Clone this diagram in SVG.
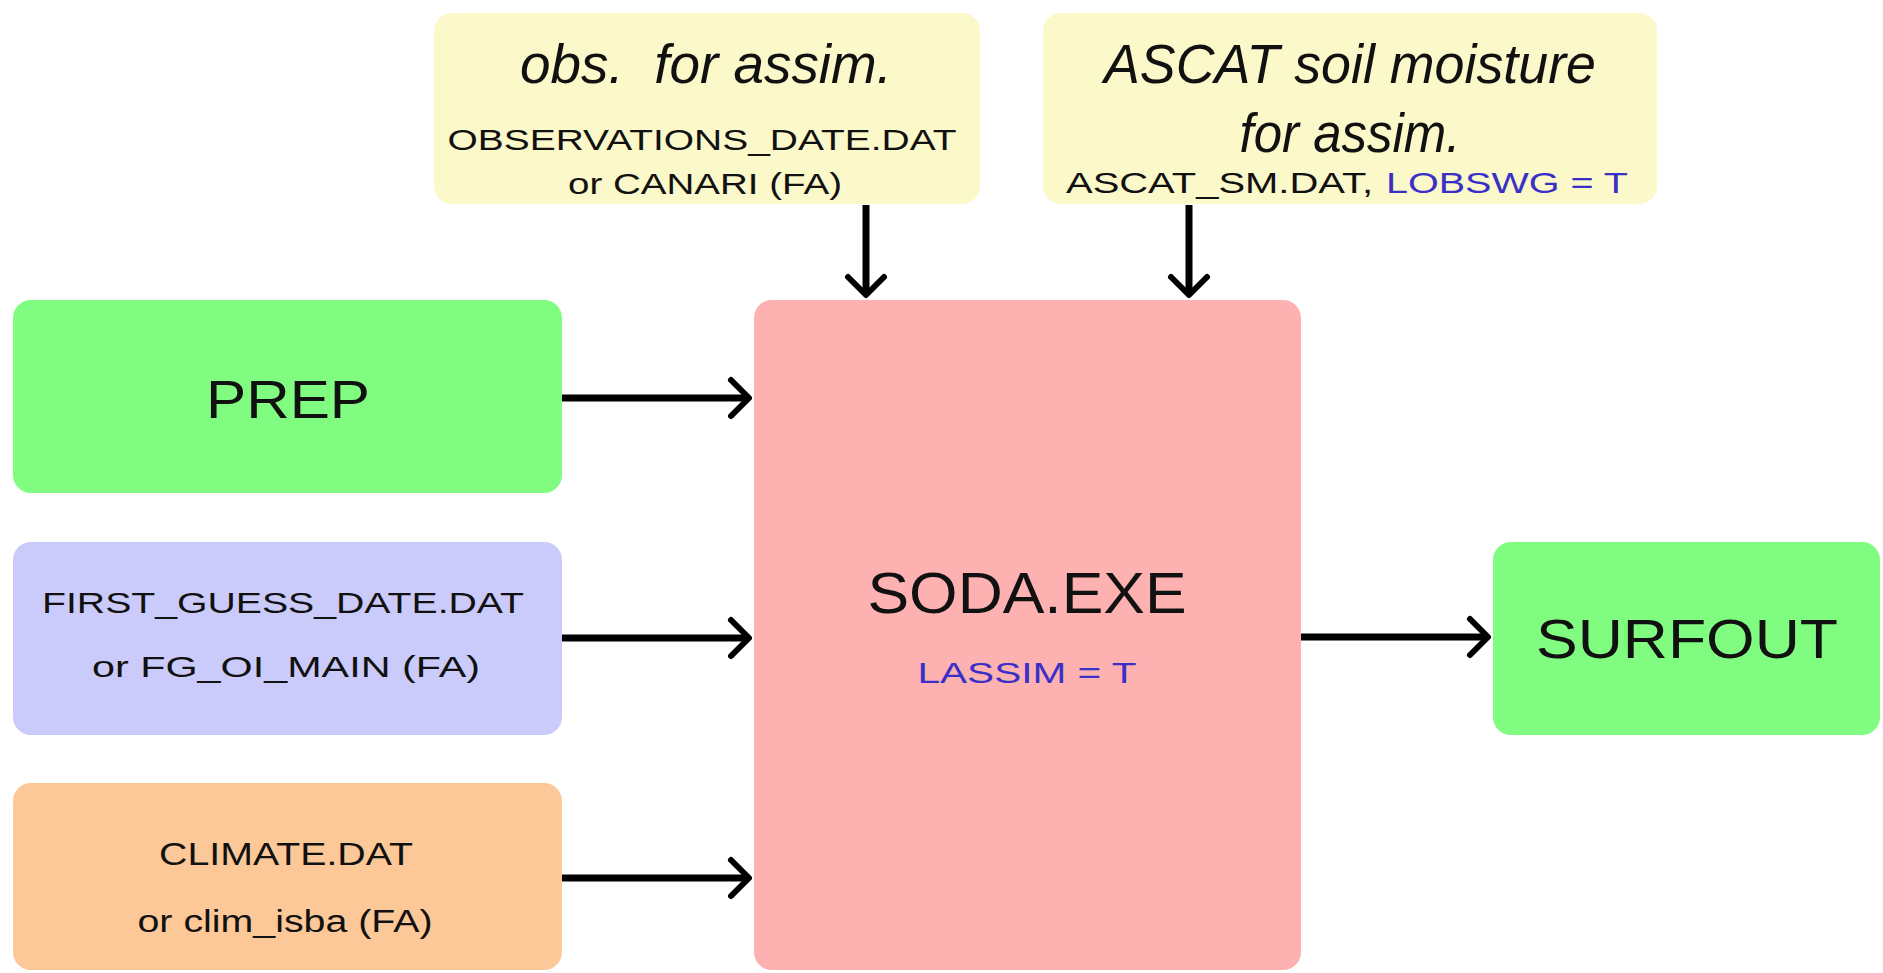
<svg xmlns="http://www.w3.org/2000/svg" width="1883" height="973" viewBox="0 0 1883 973">
<style>
  .box { stroke: none; }
  .t { font-family: "Liberation Sans", Arial, sans-serif; fill: #111; text-anchor: middle; }
  .it { font-style: italic; }
  .blue { fill: #3a30c8; }
  .conn { stroke: #000; stroke-width: 7; fill: none; }
</style>
<defs>
  <marker id="arr" markerUnits="userSpaceOnUse" markerWidth="50" markerHeight="50" viewBox="-30 -25 40 50" refX="0" refY="0" orient="auto" overflow="visible">
    <path d="M-18,-18 L0,0 L-18,18" fill="none" stroke="#000" stroke-width="6" stroke-linecap="round" stroke-linejoin="round"/>
  </marker>
</defs>
<rect width="1883" height="973" fill="#ffffff"/>

<g id="obs">
  <rect class="box" x="434" y="13" width="546" height="191" rx="18" fill="#fbf8c9"/>
  <text class="t it" x="706" y="83" font-size="56" textLength="372" lengthAdjust="spacingAndGlyphs" xml:space="preserve" style="white-space:pre">obs.  for assim.</text>
  <text class="t" x="702" y="150" font-size="29" textLength="509" lengthAdjust="spacingAndGlyphs">OBSERVATIONS_DATE.DAT</text>
  <text class="t" x="705" y="194" font-size="29" textLength="274" lengthAdjust="spacingAndGlyphs">or CANARI (FA)</text>
</g>

<g id="ascat">
  <rect class="box" x="1043" y="13" width="614" height="191" rx="18" fill="#fbf8c9"/>
  <text class="t it" x="1350" y="83" font-size="56" textLength="492" lengthAdjust="spacingAndGlyphs">ASCAT soil moisture</text>
  <text class="t it" x="1350" y="152" font-size="56" textLength="221" lengthAdjust="spacingAndGlyphs">for assim.</text>
  <text class="t" x="1066" y="193" font-size="30" style="text-anchor:start" textLength="307" lengthAdjust="spacingAndGlyphs">ASCAT_SM.DAT,</text>
  <text class="t blue" x="1386" y="193" font-size="30" style="text-anchor:start" textLength="242" lengthAdjust="spacingAndGlyphs">LOBSWG = T</text>
</g>

<g id="prep">
  <rect class="box" x="13" y="300" width="549" height="193" rx="18" fill="#80fd80"/>
  <text class="t" x="288" y="418" font-size="53" textLength="164" lengthAdjust="spacingAndGlyphs">PREP</text>
</g>

<g id="firstguess">
  <rect class="box" x="13" y="542" width="549" height="193" rx="18" fill="#cbcbfb"/>
  <text class="t" x="283" y="613" font-size="30" textLength="482" lengthAdjust="spacingAndGlyphs">FIRST_GUESS_DATE.DAT</text>
  <text class="t" x="286" y="677" font-size="30" textLength="388" lengthAdjust="spacingAndGlyphs">or FG_OI_MAIN (FA)</text>
</g>

<g id="climate">
  <rect class="box" x="13" y="783" width="549" height="187" rx="18" fill="#fdc897"/>
  <text class="t" x="286" y="865" font-size="31" textLength="254" lengthAdjust="spacingAndGlyphs">CLIMATE.DAT</text>
  <text class="t" x="285" y="932" font-size="31" textLength="295" lengthAdjust="spacingAndGlyphs">or clim_isba (FA)</text>
</g>

<g id="soda">
  <rect class="box" x="754" y="300" width="547" height="670" rx="18" fill="#fdb1b1"/>
  <text class="t" x="1027" y="613" font-size="57" textLength="319" lengthAdjust="spacingAndGlyphs">SODA.EXE</text>
  <text class="t blue" x="1027" y="683" font-size="29" textLength="219" lengthAdjust="spacingAndGlyphs">LASSIM = T</text>
</g>

<g id="surfout">
  <rect class="box" x="1493" y="542" width="387" height="193" rx="18" fill="#80fd80"/>
  <text class="t" x="1687" y="658" font-size="56" textLength="302" lengthAdjust="spacingAndGlyphs">SURFOUT</text>
</g>

<g id="connectors">
  <line class="conn" x1="866" y1="205" x2="866" y2="295" marker-end="url(#arr)"/>
  <line class="conn" x1="1189" y1="205" x2="1189" y2="295" marker-end="url(#arr)"/>
  <line class="conn" x1="562" y1="398" x2="749" y2="398" marker-end="url(#arr)"/>
  <line class="conn" x1="562" y1="638" x2="749" y2="638" marker-end="url(#arr)"/>
  <line class="conn" x1="562" y1="878" x2="749" y2="878" marker-end="url(#arr)"/>
  <line class="conn" x1="1301" y1="637" x2="1488" y2="637" marker-end="url(#arr)"/>
</g>
</svg>
